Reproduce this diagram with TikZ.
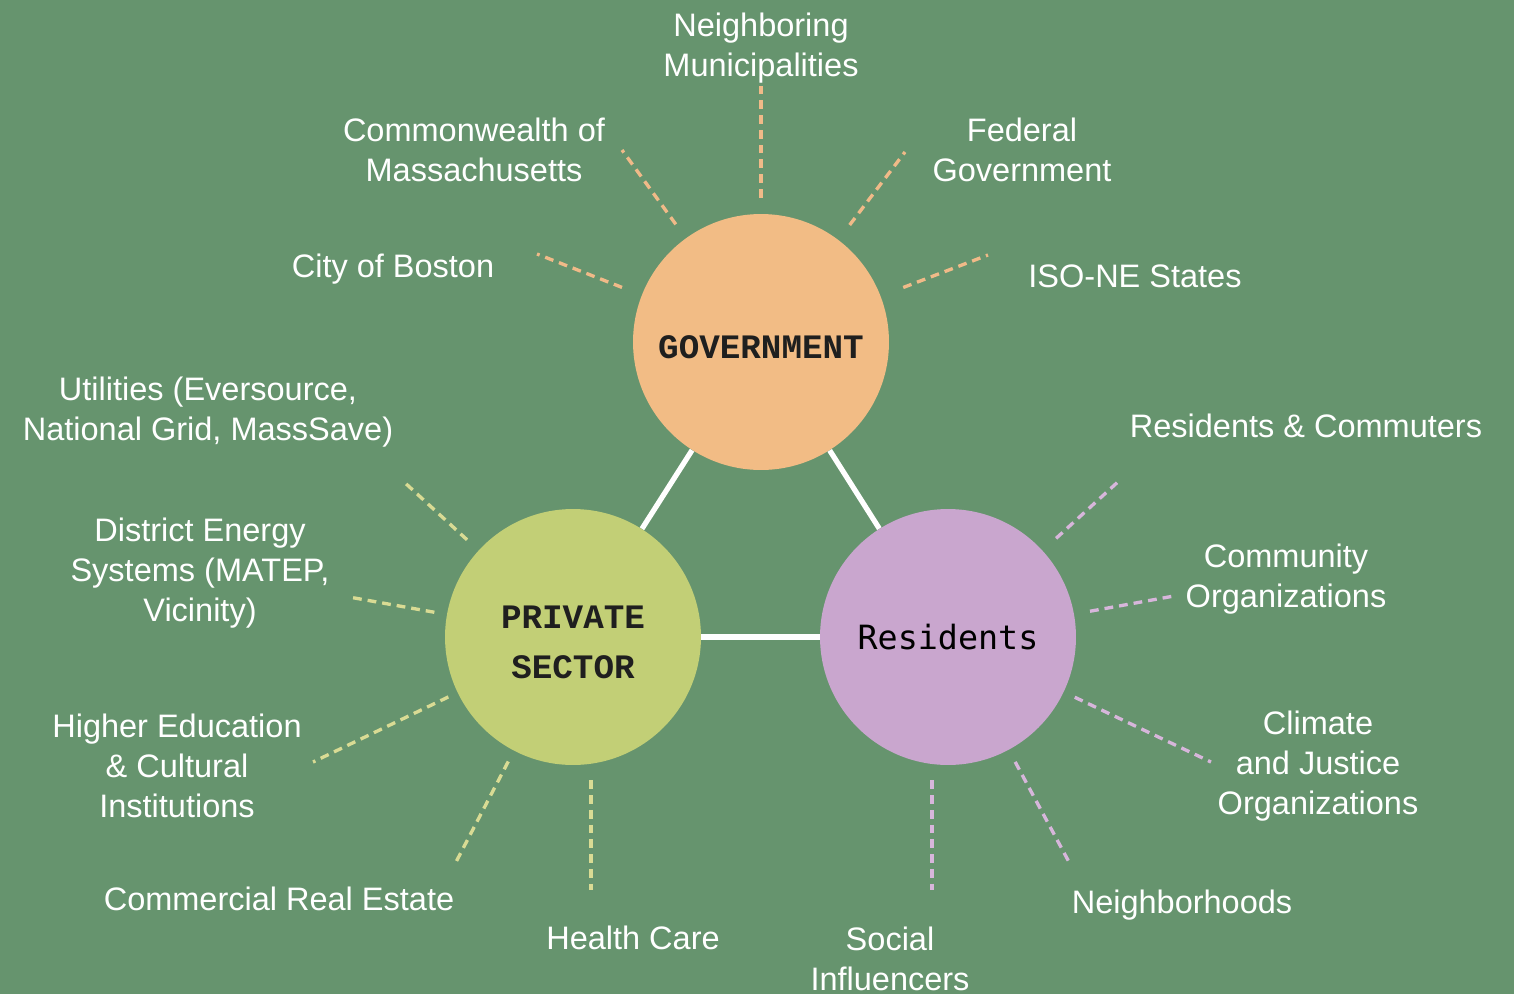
\documentclass[tikz,border=0pt]{standalone}
\usepackage{fontspec}
\setmainfont{Liberation Sans}
\newfontfamily\typefont{Liberation Mono}
\newfontfamily\codefont{DejaVu Sans Mono}
\usetikzlibrary{positioning}
\definecolor{bggreen}{RGB}{102,148,110}
\definecolor{govfill}{RGB}{242,188,133}
\definecolor{govdash}{RGB}{240,186,136}
\definecolor{privfill}{RGB}{194,207,118}
\definecolor{privdash}{RGB}{217,219,148}
\definecolor{resfill}{RGB}{201,166,206}
\definecolor{resdash}{RGB}{215,182,219}
\def\circsize{5.12cm}
\tikzstyle{group}=[circle,minimum size=\circsize,inner sep=0pt]
\tikzstyle{gov group}=[group, fill=govfill]
\tikzstyle{priv group}=[group, fill=privfill]
\tikzstyle{res group}=[group, fill=resfill]
\tikzstyle{sector name}=[align=center, text=black!88, font=\typefont\bfseries\fontsize{19.5}{28.4}\selectfont]
\tikzstyle{res name}=[text=black, font=\codefont\fontsize{19}{22}\selectfont]
\tikzstyle{link}=[draw=white, line width=3pt]
\tikzstyle{spoke}=[dash pattern=on 5pt off 3.4pt, line width=1.9pt, shorten <=0.3cm]
\tikzstyle{gov spoke}=[spoke, draw=govdash]
\tikzstyle{priv spoke}=[spoke, draw=privdash]
\tikzstyle{res spoke}=[spoke, draw=resdash]
\tikzstyle{annot}=[text=white, align=center, inner sep=0pt, font=\fontsize{18.5}{22.7}\selectfont]

\begin{document}
\begin{tikzpicture}[x=0.02cm, y=-0.02cm]

			% Background
			\fill[bggreen] (0,0) rectangle (1514,994);
			\useasboundingbox (0,0) rectangle (1514,994);

			% Draw the three groups
			\node[gov group] (gov) at (761,342) {};
			\node[priv group] (priv) at (573,637) {};
			\node[res group] (res) at (948,637) {};

			% Name the groups
			\node[sector name] (gov-name) at (761,347) {GOVERNMENT};
			\node[sector name] (priv-name) at (573,642) {PRIVATE\\SECTOR};
			\node[res name] (res-name) at (res) {Residents};

			% Connect the groups
			\path[link] (gov) -- (priv);
			\path[link] (gov) -- (res);
			\path[link] (priv) -- (res);

			% Ends of the spokes
			\coordinate (nm-end) at (761,80);
			\coordinate (cw-end) at (622,150);
			\coordinate (fg-end) at (905,152);
			\coordinate (cb-end) at (537,254);
			\coordinate (iso-end) at (988,255);
			\coordinate (ut-end) at (403,481);
			\coordinate (de-end) at (349,597);
			\coordinate (he-end) at (313,762);
			\coordinate (cre-end) at (456,862);
			\coordinate (hc-end) at (591,890);
			\coordinate (rc-end) at (1120,480);
			\coordinate (co-end) at (1174,596);
			\coordinate (cj-end) at (1211,762);
			\coordinate (nb-end) at (1069,862);
			\coordinate (si-end) at (932,890);

			% Draw the spokes of every group
			\foreach \dest / \gap in {nm-end/0.32cm, cw-end/0.34cm, fg-end/0.37cm, cb-end/0.42cm, iso-end/0.48cm}
			\draw[gov spoke, shorten <=\gap] (gov) -- (\dest);
			\foreach \dest / \gap in {ut-end/0.31cm, de-end/0.25cm, he-end/0.2cm, cre-end/0.24cm}
			\draw[priv spoke, shorten <=\gap] (priv) -- (\dest);
			\draw[priv spoke] (priv.south -| hc-end) -- (hc-end);
			\foreach \dest / \gap in {rc-end/0.36cm, co-end/0.32cm, cj-end/0.24cm, nb-end/0.27cm}
			\draw[res spoke, shorten <=\gap] (res) -- (\dest);
			\draw[res spoke] (res.south -| si-end) -- (si-end);

			% Annotate the spokes
			\node[annot] (nm) at (761,48) {Neighboring\\Municipalities};
			\node[annot] (cw) at (474,150) {Commonwealth of\\Massachusetts};
			\node[annot] (fg) at (1022,150) {Federal\\Government};
			\node[annot] (cb) at (393,269) {City of Boston};
			\node[annot] (iso) at (1135,276) {ISO-NE States};
			\node[annot] (ut) at (208,412) {Utilities (Eversource,\\National Grid, MassSave)};
			\node[annot] (de) at (200,573) {District Energy\\Systems (MATEP,\\Vicinity)};
			\node[annot] (he) at (177,766) {Higher Education\\\& Cultural\\Institutions};
			\node[annot] (cre) at (279,899) {Commercial Real Estate};
			\node[annot] (hc) at (633,938) {Health Care};
			\node[annot] (si) at (890,959) {Social\\Influencers};
			\node[annot] (nb) at (1182,905) {Neighborhoods};
			\node[annot] (cj) at (1318,766) {Climate\\and Justice\\Organizations};
			\node[annot] (co) at (1286,579) {Community\\Organizations};
			\node[annot] (rc) at (1306,426) {Residents \& Commuters};
		\end{tikzpicture}
\end{document}
